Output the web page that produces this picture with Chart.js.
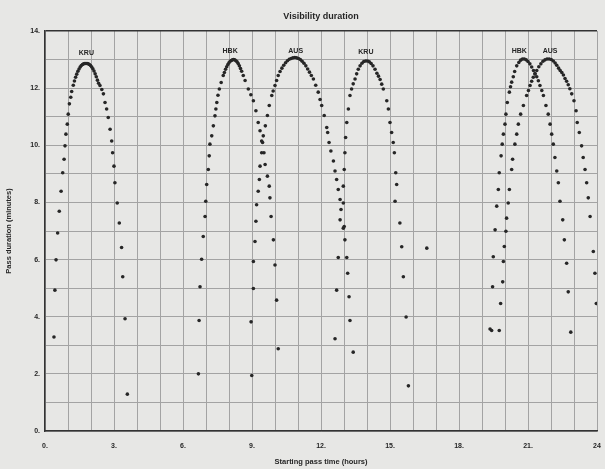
<!DOCTYPE html>
<html>
<head>
<meta charset="utf-8">
<script src="https://cdn.jsdelivr.net/npm/chart.js@4/dist/chart.umd.min.js"></script>
<style>
  html, body { margin: 0; padding: 0; background: #e7e7e5; }
  #wrap { width: 605px; height: 469px; }
</style>
</head>
<body>
<div id="wrap"><canvas id="vis"></canvas></div>
<script>
// pass start time (hours), pass duration (minutes)
const kru1 = [
  [1.23, 12.10], [1.28, 12.25], [1.33, 12.38], [1.38, 12.49], [1.43, 12.59], [1.48, 12.67],
  [1.53, 12.74], [1.58, 12.79], [1.63, 12.83], [1.68, 12.85], [1.73, 12.86], [1.78, 12.86],
  [1.83, 12.86], [1.88, 12.85], [1.93, 12.83], [1.98, 12.79], [2.03, 12.74], [2.08, 12.68],
  [2.13, 12.60], [2.18, 12.50], [2.23, 12.40], [2.28, 12.28], [2.33, 12.17], [2.39, 12.09],
  [1.16, 11.88], [1.12, 11.68], [1.06, 11.45], [1.01, 11.09], [0.97, 10.74], [0.91, 10.39],
  [0.87, 9.98], [0.83, 9.51], [0.77, 9.04], [0.70, 8.39], [0.62, 7.69], [0.55, 6.93],
  [0.48, 5.99], [0.43, 4.93], [0.39, 3.29],
  [2.47, 11.95], [2.54, 11.80], [2.61, 11.50], [2.68, 11.27], [2.75, 10.97], [2.83, 10.56],
  [2.90, 10.15], [2.94, 9.74], [3.00, 9.27], [3.04, 8.69], [3.14, 7.98], [3.23, 7.28],
  [3.33, 6.42], [3.38, 5.40], [3.48, 3.93], [3.58, 1.29]
];
const hbk1 = [
  [7.75, 12.44], [7.80, 12.55], [7.85, 12.66], [7.90, 12.75], [7.95, 12.83], [8.00, 12.89],
  [8.05, 12.94], [8.10, 12.97], [8.15, 12.99], [8.20, 13.00], [8.25, 12.99], [8.30, 12.96],
  [8.35, 12.92], [8.40, 12.86], [8.45, 12.78], [8.50, 12.69], [8.55, 12.59], [8.62, 12.44],
  [7.66, 12.20], [7.58, 11.97], [7.52, 11.75], [7.47, 11.50], [7.43, 11.27], [7.39, 11.03],
  [7.32, 10.68], [7.25, 10.33], [7.17, 10.04], [7.14, 9.63], [7.10, 9.15], [7.03, 8.63],
  [6.99, 8.04], [6.96, 7.51], [6.88, 6.81], [6.81, 6.01], [6.74, 5.05], [6.70, 3.87], [6.67, 2.00],
  [8.70, 12.27], [8.84, 11.97], [8.95, 11.77], [9.06, 11.56], [9.17, 11.21], [9.27, 10.80],
  [9.35, 10.51], [9.42, 10.15], [9.42, 9.74], [9.35, 9.27], [9.32, 8.80], [9.27, 8.39],
  [9.20, 7.92], [9.17, 7.34], [9.13, 6.63], [9.06, 5.93], [9.06, 4.99], [8.96, 3.82], [8.99, 1.94]
];
const aus1 = [
  [10.00, 12.09], [10.07, 12.27], [10.14, 12.44], [10.22, 12.58], [10.30, 12.70], [10.38, 12.80],
  [10.46, 12.89], [10.54, 12.96], [10.62, 13.01], [10.70, 13.04], [10.78, 13.06], [10.86, 13.07],
  [10.94, 13.06], [11.02, 13.04], [11.10, 13.00], [11.18, 12.94], [11.26, 12.87], [11.34, 12.78],
  [11.42, 12.67], [11.50, 12.56], [11.58, 12.44], [11.67, 12.32], [11.77, 12.10], [11.88, 11.86],
  [9.92, 11.90], [9.86, 11.74], [9.75, 11.39], [9.67, 11.04], [9.58, 10.68], [9.49, 10.33],
  [9.46, 10.10], [9.52, 9.74], [9.57, 9.33], [9.67, 8.92], [9.75, 8.57], [9.78, 8.16],
  [9.83, 7.51], [9.93, 6.69], [10.00, 5.81], [10.07, 4.58], [10.14, 2.88],
  [11.96, 11.60], [12.03, 11.39], [12.14, 11.04], [12.25, 10.62], [12.29, 10.45], [12.35, 10.10],
  [12.43, 9.80], [12.54, 9.45], [12.61, 9.10], [12.68, 8.80], [12.75, 8.45], [12.83, 8.10],
  [12.87, 7.75], [12.83, 7.39], [12.97, 7.10], [12.75, 6.07], [12.68, 4.93], [12.61, 3.23]
];
const kru2 = [
  [13.26, 11.74], [13.33, 11.97], [13.40, 12.15], [13.48, 12.32], [13.55, 12.50], [13.62, 12.66],
  [13.70, 12.78], [13.78, 12.87], [13.86, 12.93], [13.94, 12.95], [14.02, 12.95], [14.10, 12.92],
  [14.18, 12.86], [14.26, 12.78], [14.35, 12.66], [14.43, 12.52], [14.50, 12.42], [14.57, 12.30],
  [14.64, 12.14], [14.71, 11.97],
  [13.19, 11.27], [13.12, 10.80], [13.07, 10.27], [13.04, 9.74], [13.01, 9.15], [12.97, 8.57],
  [12.97, 7.98], [13.01, 7.16], [13.04, 6.69], [13.12, 6.07], [13.16, 5.52], [13.22, 4.70],
  [13.26, 3.87], [13.40, 2.76],
  [14.86, 11.56], [14.93, 11.27], [15.00, 10.80], [15.07, 10.45], [15.14, 10.10], [15.19, 9.74],
  [15.25, 9.04], [15.29, 8.63], [15.22, 8.04], [15.43, 7.28], [15.51, 6.45], [15.58, 5.40],
  [15.70, 3.99], [15.80, 1.58], [16.60, 6.40]
];
const hbk2 = [
  [20.19, 11.86], [20.24, 12.05], [20.29, 12.21], [20.36, 12.40], [20.42, 12.58], [20.51, 12.78],
  [20.60, 12.90], [20.68, 12.98], [20.76, 13.02], [20.84, 13.02], [20.92, 12.99], [21.00, 12.93],
  [21.08, 12.85], [21.16, 12.74], [21.24, 12.62], [21.31, 12.50], [21.38, 12.40], [21.45, 12.26],
  [21.52, 12.09], [21.60, 11.92], [21.67, 11.74],
  [20.10, 11.50], [20.04, 11.09], [20.00, 10.74], [19.93, 10.39], [19.88, 10.04], [19.83, 9.63],
  [19.75, 9.04], [19.71, 8.45], [19.64, 7.87], [19.57, 7.04], [19.49, 6.10], [19.46, 5.05],
  [19.42, 3.52], [19.35, 3.57],
  [21.78, 11.39], [21.88, 11.09], [21.96, 10.74], [22.03, 10.39], [22.10, 10.04], [22.17, 9.57],
  [22.25, 9.10], [22.32, 8.69], [22.39, 8.04], [22.51, 7.39], [22.58, 6.69], [22.68, 5.87],
  [22.75, 4.87], [22.86, 3.46]
];
const aus2 = [
  [20.94, 11.74], [21.02, 11.92], [21.09, 12.09], [21.16, 12.24], [21.23, 12.38], [21.30, 12.50],
  [21.38, 12.62], [21.47, 12.75], [21.56, 12.85], [21.65, 12.94], [21.74, 12.99], [21.83, 13.02],
  [21.92, 13.02], [22.01, 13.00], [22.10, 12.95], [22.18, 12.88], [22.25, 12.80], [22.33, 12.70],
  [22.40, 12.62], [22.47, 12.55], [22.54, 12.46], [22.61, 12.34], [22.68, 12.24], [22.75, 12.12],
  [22.82, 11.98], [22.90, 11.80],
  [20.80, 11.39], [20.68, 11.09], [20.58, 10.74], [20.51, 10.39], [20.43, 10.04], [20.33, 9.51],
  [20.29, 9.15], [20.19, 8.45], [20.14, 7.98], [20.07, 7.45], [20.04, 6.99], [19.97, 6.46],
  [19.93, 5.93], [19.90, 5.22], [19.81, 4.46], [19.75, 3.52],
  [23.00, 11.56], [23.09, 11.21], [23.14, 10.80], [23.23, 10.45], [23.33, 9.98], [23.40, 9.57],
  [23.48, 9.15], [23.55, 8.69], [23.62, 8.16], [23.70, 7.51], [23.84, 6.28], [23.91, 5.52],
  [23.97, 4.46]
];

const stationNames = ["KRU", "HBK", "AUS", "KRU", "HBK", "AUS"];
const stationLabelX = [1.80, 8.05, 10.90, 13.95, 20.62, 21.96];
const stationLabelY = [13.22, 13.30, 13.30, 13.28, 13.30, 13.30];

const passSets = [kru1, hbk1, aus1, kru2, hbk2, aus2];

const ink = "#262626";
const fontFamily = "'Liberation Sans', Arial, sans-serif";

const stationLabels = {
  id: "stationLabels",
  afterDatasetsDraw(chart) {
    const { ctx, scales: { x, y }, chartArea } = chart;
    ctx.save();
    ctx.fillStyle = ink;
    ctx.font = "bold 7px " + fontFamily;
    ctx.textAlign = "center";
    ctx.textBaseline = "middle";
    stationNames.forEach((name, i) => {
      ctx.fillText(name, x.getPixelForValue(stationLabelX[i]), y.getPixelForValue(stationLabelY[i]));
    });
    ctx.font = "bold 9px " + fontFamily;
    ctx.fillText("Visibility duration", (chartArea.left + chartArea.right) / 2, 17);
    ctx.restore();
  },
};

window.onload = () => {
  new Chart(document.getElementById("vis").getContext("2d"), {
    type: "scatter",
    data: {
      datasets: passSets.map((set, i) => ({
        label: stationNames[i],
        data: set.map(([h, m]) => ({ x: h, y: m })),
        pointRadius: 1.8,
        pointBackgroundColor: ink,
        pointBorderWidth: 0,
        showLine: false,
      })),
    },
    options: {
      responsive: true,
      maintainAspectRatio: false,
      animation: false,
      layout: { padding: { top: 31, right: 0, left: 0, bottom: 0 } },
      plugins: { legend: { display: false }, tooltip: { enabled: false }, title: { display: false } },
      scales: {
        x: {
          type: "linear",
          min: 0,
          max: 24,
          afterFit: (s) => { s.height = 38; s.paddingRight = 8; },
          border: { color: "#333", width: 1.5 },
          grid: { color: "#a3a3a3", lineWidth: 1, drawTicks: false },
          ticks: {
            stepSize: 1,
            autoSkip: false,
            maxRotation: 0,
            padding: 11,
            color: ink,
            font: { size: 7, weight: "bold", family: fontFamily },
            callback: (v) => (v % 3 === 0 ? (v === 24 ? "24" : v + ".") : ""),
          },
          title: {
            display: true,
            text: "Starting pass time (hours)",
            color: ink,
            padding: { top: 0, bottom: 3 },
            font: { size: 7.5, weight: "bold", family: fontFamily },
          },
        },
        y: {
          min: 0,
          max: 14,
          afterFit: (s) => { s.width = 45; },
          border: { color: "#333", width: 1.5 },
          grid: {
            color: (c) => (c.tick && c.tick.value === 14 ? "#333" : "#a3a3a3"),
            lineWidth: (c) => (c.tick && c.tick.value === 14 ? 1.5 : 1),
            drawTicks: false,
          },
          ticks: {
            stepSize: 1,
            autoSkip: false,
            padding: 5,
            color: ink,
            font: { size: 7, weight: "bold", family: fontFamily },
            callback: (v) => (v % 2 === 0 ? v + "." : ""),
          },
          title: {
            display: true,
            text: "Pass duration (minutes)",
            color: ink,
            padding: { top: 4, bottom: 0 },
            font: { size: 7.5, weight: "bold", family: fontFamily },
          },
        },
      },
    },
    plugins: [stationLabels],
  });
};
</script>
</body>
</html>
